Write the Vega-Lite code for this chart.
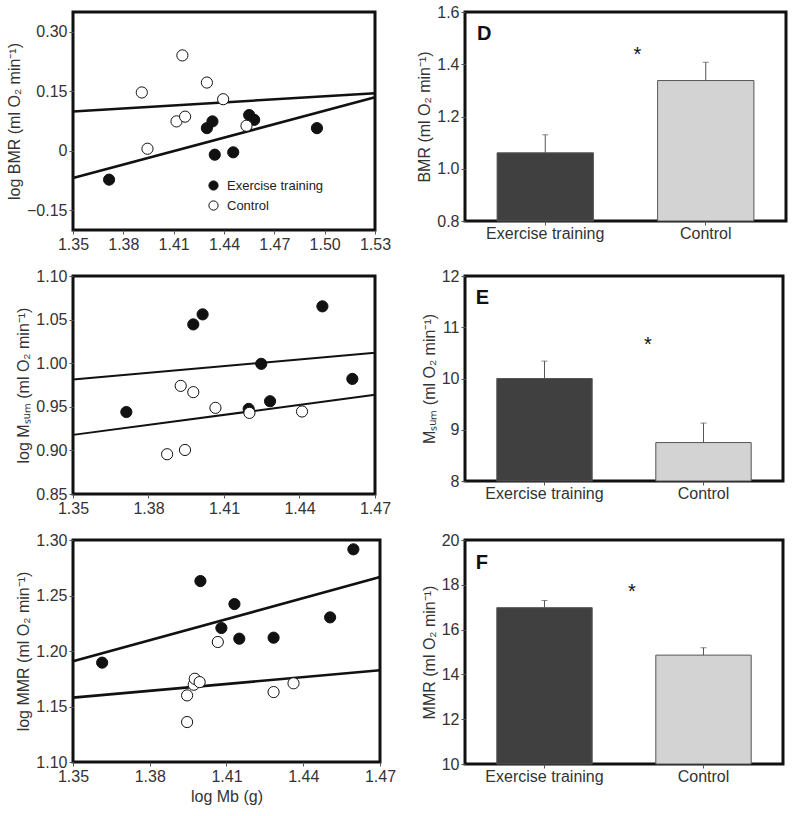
{
  "$schema": "https://vega.github.io/schema/vega-lite/v6.json",
  "padding": {"top": 2, "left": 5, "right": 5, "bottom": 5},
  "background": "white",
  "datasets": {
    "scatter": [
      {"panel": "A", "group": "Exercise training", "x": 1.3715, "y": -0.073},
      {"panel": "A", "group": "Exercise training", "x": 1.4298, "y": 0.057},
      {"panel": "A", "group": "Exercise training", "x": 1.4331, "y": 0.074},
      {"panel": "A", "group": "Exercise training", "x": 1.4345, "y": -0.010},
      {"panel": "A", "group": "Exercise training", "x": 1.4455, "y": -0.004},
      {"panel": "A", "group": "Exercise training", "x": 1.455, "y": 0.090},
      {"panel": "A", "group": "Exercise training", "x": 1.458, "y": 0.078},
      {"panel": "A", "group": "Exercise training", "x": 1.4954, "y": 0.057},
      {"panel": "A", "group": "Control", "x": 1.391, "y": 0.147},
      {"panel": "A", "group": "Control", "x": 1.3944, "y": 0.005},
      {"panel": "A", "group": "Control", "x": 1.4152, "y": 0.2405},
      {"panel": "A", "group": "Control", "x": 1.4117, "y": 0.074},
      {"panel": "A", "group": "Control", "x": 1.4168, "y": 0.086},
      {"panel": "A", "group": "Control", "x": 1.4298, "y": 0.172},
      {"panel": "A", "group": "Control", "x": 1.4395, "y": 0.130},
      {"panel": "A", "group": "Control", "x": 1.4534, "y": 0.063},
      {"panel": "B", "group": "Exercise training", "x": 1.3712, "y": 0.944},
      {"panel": "B", "group": "Exercise training", "x": 1.3978, "y": 1.0445},
      {"panel": "B", "group": "Exercise training", "x": 1.4015, "y": 1.056},
      {"panel": "B", "group": "Exercise training", "x": 1.4198, "y": 0.9476},
      {"panel": "B", "group": "Exercise training", "x": 1.4248, "y": 0.9993},
      {"panel": "B", "group": "Exercise training", "x": 1.4283, "y": 0.9564},
      {"panel": "B", "group": "Exercise training", "x": 1.4491, "y": 1.0652},
      {"panel": "B", "group": "Exercise training", "x": 1.461, "y": 0.982},
      {"panel": "B", "group": "Control", "x": 1.3874, "y": 0.8956},
      {"panel": "B", "group": "Control", "x": 1.3928, "y": 0.974},
      {"panel": "B", "group": "Control", "x": 1.3945, "y": 0.9005},
      {"panel": "B", "group": "Control", "x": 1.3978, "y": 0.9668},
      {"panel": "B", "group": "Control", "x": 1.4066, "y": 0.9488},
      {"panel": "B", "group": "Control", "x": 1.4201, "y": 0.943},
      {"panel": "B", "group": "Control", "x": 1.441, "y": 0.9446},
      {"panel": "C", "group": "Exercise training", "x": 1.3614, "y": 1.1895},
      {"panel": "C", "group": "Exercise training", "x": 1.3998, "y": 1.263},
      {"panel": "C", "group": "Exercise training", "x": 1.408, "y": 1.2207},
      {"panel": "C", "group": "Exercise training", "x": 1.4131, "y": 1.2423},
      {"panel": "C", "group": "Exercise training", "x": 1.415, "y": 1.2111},
      {"panel": "C", "group": "Exercise training", "x": 1.4284, "y": 1.212},
      {"panel": "C", "group": "Exercise training", "x": 1.4505, "y": 1.2303},
      {"panel": "C", "group": "Exercise training", "x": 1.4596, "y": 1.2916},
      {"panel": "C", "group": "Control", "x": 1.3946, "y": 1.136},
      {"panel": "C", "group": "Control", "x": 1.3946, "y": 1.160},
      {"panel": "C", "group": "Control", "x": 1.3972, "y": 1.1696},
      {"panel": "C", "group": "Control", "x": 1.3976, "y": 1.175},
      {"panel": "C", "group": "Control", "x": 1.3995, "y": 1.172},
      {"panel": "C", "group": "Control", "x": 1.4066, "y": 1.2081},
      {"panel": "C", "group": "Control", "x": 1.4284, "y": 1.163},
      {"panel": "C", "group": "Control", "x": 1.4362, "y": 1.1709}
    ],
    "lines": [
      {"panel": "A", "group": "Control", "x": 1.35, "y": 0.099},
      {"panel": "A", "group": "Control", "x": 1.53, "y": 0.145},
      {"panel": "A", "group": "Exercise training", "x": 1.35, "y": -0.069},
      {"panel": "A", "group": "Exercise training", "x": 1.53, "y": 0.135},
      {"panel": "B", "group": "Exercise training", "x": 1.35, "y": 0.9813},
      {"panel": "B", "group": "Exercise training", "x": 1.47, "y": 1.0119},
      {"panel": "B", "group": "Control", "x": 1.35, "y": 0.9178},
      {"panel": "B", "group": "Control", "x": 1.47, "y": 0.9637},
      {"panel": "C", "group": "Exercise training", "x": 1.35, "y": 1.1907},
      {"panel": "C", "group": "Exercise training", "x": 1.47, "y": 1.2667},
      {"panel": "C", "group": "Control", "x": 1.35, "y": 1.158},
      {"panel": "C", "group": "Control", "x": 1.47, "y": 1.1826}
    ],
    "bars": [
      {"panel": "D", "group": "Exercise training", "mean": 1.061, "upper": 1.130},
      {"panel": "D", "group": "Control", "mean": 1.3376, "upper": 1.4076},
      {"panel": "E", "group": "Exercise training", "mean": 10.0, "upper": 10.34},
      {"panel": "E", "group": "Control", "mean": 8.75, "upper": 9.13},
      {"panel": "F", "group": "Exercise training", "mean": 16.98, "upper": 17.30},
      {"panel": "F", "group": "Control", "mean": 14.86, "upper": 15.19}
    ]
  },
  "bounds": "flush",
  "columns": 2,
  "spacing": {"row": 46, "column": 85},
  "concat": [
    {
      "width": 302, "height": 218,
      "layer": [
        {
          "data": {"name": "lines"},
          "transform": [{"filter": "datum.panel == 'A'"}],
          "mark": {"type": "line", "color": "#111", "strokeWidth": 2.6},
          "encoding": {
            "x": {"field": "x", "type": "quantitative", "scale": {"domain": [1.35, 1.53], "nice": false, "zero": false},
                  "axis": {"values": [1.35, 1.38, 1.41, 1.44, 1.47, 1.50, 1.53], "format": ".2f", "title": null}},
            "y": {"field": "y", "type": "quantitative", "scale": {"domain": [-0.2, 0.35], "nice": false, "zero": false},
                  "axis": {"values": [-0.15, 0, 0.15, 0.30], "labelExpr": "datum.value == 0 ? '0' : format(datum.value, '.2f')", "title": "log BMR (ml O₂ min⁻¹)"}},
            "detail": {"field": "group"}
          }
        },
        {
          "data": {"name": "scatter"},
          "transform": [{"filter": "datum.panel == 'A'"}],
          "mark": {"type": "point", "shape": "circle", "filled": true, "size": 125, "stroke": "#111", "strokeWidth": 1, "opacity": 1},
          "encoding": {
            "x": {"field": "x", "type": "quantitative"},
            "y": {"field": "y", "type": "quantitative"},
            "fill": {"field": "group", "type": "nominal",
                     "scale": {"domain": ["Exercise training", "Control"], "range": ["#111111", "#ffffff"]},
                     "legend": {"orient": "none", "legendX": 134, "legendY": 167, "title": null, "symbolType": "circle", "symbolSize": 85, "symbolStrokeColor": "#111", "symbolStrokeWidth": 1, "labelFontSize": 13, "labelOffset": 7, "rowPadding": 5, "labelColor": "#222", "labelFont": "Liberation Sans", "padding": 0}}
          }
        },
        {
          "mark": {"type": "text", "text": "A", "fontSize": 20, "fontWeight": "bold", "font": "Liberation Sans", "align": "left", "baseline": "alphabetic", "color": "#111"},
          "encoding": {"x": {"datum": 1.3566, "type": "quantitative"}, "y": {"datum": 0.278, "type": "quantitative"}}
        }
      ]
    },
    {
      "width": 321, "height": 209,
      "data": {"name": "bars"},
      "transform": [{"filter": "datum.panel == 'D'"}],
      "layer": [
        {
          "mark": {"type": "bar", "stroke": "#555", "strokeWidth": 1},
          "encoding": {
            "x": {"field": "group", "type": "nominal", "sort": ["Exercise training", "Control"],
                  "scale": {"paddingInner": 0.4, "paddingOuter": 0.2},
                  "axis": {"title": null, "labelAngle": 0, "labelPadding": 0}},
            "y": {"field": "mean", "type": "quantitative", "scale": {"domain": [0.8, 1.6], "nice": false, "zero": false},
                  "axis": {"values": [0.8, 1.0, 1.2, 1.4, 1.6], "format": ".1f", "title": "BMR (ml O₂ min⁻¹)"}},
            "y2": {"datum": 0.8},
            "fill": {"condition": {"test": "datum.group == 'Control'", "value": "#d3d3d3"}, "value": "#404040"}
          }
        },
        {
          "mark": {"type": "rule", "color": "#555", "strokeWidth": 1},
          "encoding": {"x": {"field": "group", "type": "nominal", "sort": ["Exercise training", "Control"]}, "y": {"field": "mean", "type": "quantitative"}, "y2": {"field": "upper"}}
        },
        {
          "mark": {"type": "tick", "color": "#555", "size": 6, "thickness": 1, "orient": "horizontal"},
          "encoding": {"x": {"field": "group", "type": "nominal", "sort": ["Exercise training", "Control"]}, "y": {"field": "upper", "type": "quantitative"}}
        },
        {
          "transform": [{"filter": "datum.group == 'Control'"}],
          "mark": {"type": "text", "text": "D", "fontSize": 20, "fontWeight": "bold", "font": "Liberation Sans", "align": "left", "baseline": "alphabetic", "color": "#111", "dx": -20},
          "encoding": {"x": {"datum": "Exercise training", "type": "nominal", "bandPosition": 0}, "y": {"datum": 1.493, "type": "quantitative"}}
        },
        {
          "transform": [{"filter": "datum.group == 'Control'"}],
          "mark": {"type": "text", "text": "*", "fontSize": 20, "font": "Liberation Sans", "align": "center", "baseline": "alphabetic", "color": "#111", "dx": 12},
          "encoding": {"y": {"datum": 1.411, "type": "quantitative"}}
        }
      ]
    },
    {
      "width": 302, "height": 218,
      "layer": [
        {
          "data": {"name": "lines"},
          "transform": [{"filter": "datum.panel == 'B'"}],
          "mark": {"type": "line", "color": "#111", "strokeWidth": 2},
          "encoding": {
            "x": {"field": "x", "type": "quantitative", "scale": {"domain": [1.35, 1.47], "nice": false, "zero": false},
                  "axis": {"values": [1.35, 1.38, 1.41, 1.44, 1.47], "format": ".2f", "title": null}},
            "y": {"field": "y", "type": "quantitative", "scale": {"domain": [0.85, 1.10], "nice": false, "zero": false},
                  "axis": {"values": [0.85, 0.90, 0.95, 1.00, 1.05, 1.10], "format": ".2f", "title": "log Mₛᵤₘ (ml O₂ min⁻¹)"}},
            "detail": {"field": "group"}
          }
        },
        {
          "data": {"name": "scatter"},
          "transform": [{"filter": "datum.panel == 'B'"}],
          "mark": {"type": "point", "shape": "circle", "filled": true, "size": 125, "stroke": "#111", "strokeWidth": 1, "opacity": 1},
          "encoding": {
            "x": {"field": "x", "type": "quantitative"},
            "y": {"field": "y", "type": "quantitative"},
            "fill": {"condition": {"test": "datum.group == 'Control'", "value": "#ffffff"}, "value": "#111111"}
          }
        },
        {
          "mark": {"type": "text", "text": "B", "fontSize": 20, "fontWeight": "bold", "font": "Liberation Sans", "align": "left", "baseline": "alphabetic", "color": "#111"},
          "encoding": {"x": {"datum": 1.3538, "type": "quantitative"}, "y": {"datum": 1.0667, "type": "quantitative"}}
        }
      ]
    },
    {
      "width": 318, "height": 205,
      "data": {"name": "bars"},
      "transform": [{"filter": "datum.panel == 'E'"}],
      "layer": [
        {
          "mark": {"type": "bar", "stroke": "#555", "strokeWidth": 1},
          "encoding": {
            "x": {"field": "group", "type": "nominal", "sort": ["Exercise training", "Control"],
                  "scale": {"paddingInner": 0.4, "paddingOuter": 0.2},
                  "axis": {"title": null, "labelAngle": 0, "labelPadding": 0}},
            "y": {"field": "mean", "type": "quantitative", "scale": {"domain": [8, 12], "nice": false, "zero": false},
                  "axis": {"values": [8, 9, 10, 11, 12], "format": "d", "title": "Mₛᵤₘ (ml O₂ min⁻¹)"}},
            "y2": {"datum": 8},
            "fill": {"condition": {"test": "datum.group == 'Control'", "value": "#d3d3d3"}, "value": "#404040"}
          }
        },
        {
          "mark": {"type": "rule", "color": "#555", "strokeWidth": 1},
          "encoding": {"x": {"field": "group", "type": "nominal", "sort": ["Exercise training", "Control"]}, "y": {"field": "mean", "type": "quantitative"}, "y2": {"field": "upper"}}
        },
        {
          "mark": {"type": "tick", "color": "#555", "size": 6, "thickness": 1, "orient": "horizontal"},
          "encoding": {"x": {"field": "group", "type": "nominal", "sort": ["Exercise training", "Control"]}, "y": {"field": "upper", "type": "quantitative"}}
        },
        {
          "transform": [{"filter": "datum.group == 'Control'"}],
          "mark": {"type": "text", "text": "E", "fontSize": 20, "fontWeight": "bold", "font": "Liberation Sans", "align": "left", "baseline": "alphabetic", "color": "#111", "dx": -21},
          "encoding": {"x": {"datum": "Exercise training", "type": "nominal", "bandPosition": 0}, "y": {"datum": 11.45, "type": "quantitative"}}
        },
        {
          "transform": [{"filter": "datum.group == 'Control'"}],
          "mark": {"type": "text", "text": "*", "fontSize": 20, "font": "Liberation Sans", "align": "center", "baseline": "alphabetic", "color": "#111", "dx": 24},
          "encoding": {"y": {"datum": 10.53, "type": "quantitative"}}
        }
      ]
    },
    {
      "width": 307, "height": 222,
      "layer": [
        {
          "data": {"name": "lines"},
          "transform": [{"filter": "datum.panel == 'C'"}],
          "mark": {"type": "line", "color": "#111", "strokeWidth": 2.6},
          "encoding": {
            "x": {"field": "x", "type": "quantitative", "scale": {"domain": [1.35, 1.47], "nice": false, "zero": false},
                  "axis": {"values": [1.35, 1.38, 1.41, 1.44, 1.47], "format": ".2f", "title": "log Mb (g)", "titlePadding": 4}},
            "y": {"field": "y", "type": "quantitative", "scale": {"domain": [1.10, 1.30], "nice": false, "zero": false},
                  "axis": {"values": [1.10, 1.15, 1.20, 1.25, 1.30], "format": ".2f", "title": "log MMR (ml O₂ min⁻¹)"}},
            "detail": {"field": "group"}
          }
        },
        {
          "data": {"name": "scatter"},
          "transform": [{"filter": "datum.panel == 'C'"}],
          "mark": {"type": "point", "shape": "circle", "filled": true, "size": 125, "stroke": "#111", "strokeWidth": 1, "opacity": 1},
          "encoding": {
            "x": {"field": "x", "type": "quantitative"},
            "y": {"field": "y", "type": "quantitative"},
            "fill": {"condition": {"test": "datum.group == 'Control'", "value": "#ffffff"}, "value": "#111111"}
          }
        },
        {
          "mark": {"type": "text", "text": "C", "fontSize": 20, "fontWeight": "bold", "font": "Liberation Sans", "align": "left", "baseline": "alphabetic", "color": "#111"},
          "encoding": {"x": {"datum": 1.3538, "type": "quantitative"}, "y": {"datum": 1.2748, "type": "quantitative"}}
        }
      ]
    },
    {
      "width": 318, "height": 224,
      "data": {"name": "bars"},
      "transform": [{"filter": "datum.panel == 'F'"}],
      "layer": [
        {
          "mark": {"type": "bar", "stroke": "#555", "strokeWidth": 1},
          "encoding": {
            "x": {"field": "group", "type": "nominal", "sort": ["Exercise training", "Control"],
                  "scale": {"paddingInner": 0.4, "paddingOuter": 0.2},
                  "axis": {"title": null, "labelAngle": 0, "labelPadding": 0}},
            "y": {"field": "mean", "type": "quantitative", "scale": {"domain": [10, 20], "nice": false, "zero": false},
                  "axis": {"values": [10, 12, 14, 16, 18, 20], "format": "d", "title": "MMR (ml O₂ min⁻¹)"}},
            "y2": {"datum": 10},
            "fill": {"condition": {"test": "datum.group == 'Control'", "value": "#d3d3d3"}, "value": "#404040"}
          }
        },
        {
          "mark": {"type": "rule", "color": "#555", "strokeWidth": 1},
          "encoding": {"x": {"field": "group", "type": "nominal", "sort": ["Exercise training", "Control"]}, "y": {"field": "mean", "type": "quantitative"}, "y2": {"field": "upper"}}
        },
        {
          "mark": {"type": "tick", "color": "#555", "size": 6, "thickness": 1, "orient": "horizontal"},
          "encoding": {"x": {"field": "group", "type": "nominal", "sort": ["Exercise training", "Control"]}, "y": {"field": "upper", "type": "quantitative"}}
        },
        {
          "transform": [{"filter": "datum.group == 'Control'"}],
          "mark": {"type": "text", "text": "F", "fontSize": 20, "fontWeight": "bold", "font": "Liberation Sans", "align": "left", "baseline": "alphabetic", "color": "#111", "dx": -21},
          "encoding": {"x": {"datum": "Exercise training", "type": "nominal", "bandPosition": 0}, "y": {"datum": 18.7, "type": "quantitative"}}
        },
        {
          "transform": [{"filter": "datum.group == 'Control'"}],
          "mark": {"type": "text", "text": "*", "fontSize": 20, "font": "Liberation Sans", "align": "center", "baseline": "alphabetic", "color": "#111", "dx": 8},
          "encoding": {"y": {"datum": 17.39, "type": "quantitative"}}
        }
      ]
    }
  ],
  "config": {
    "view": {"stroke": "#111", "strokeWidth": 3},
    "font": "Liberation Sans",
    "axis": {
      "labelFont": "Liberation Sans", "titleFont": "Liberation Sans",
      "labelFontSize": 16, "titleFontSize": 16, "titleFontWeight": "normal",
      "labelColor": "#333", "titleColor": "#333",
      "domain": false, "grid": false,
      "ticks": true, "tickColor": "#555", "tickSize": 4, "tickWidth": 1,
      "labelPadding": 2, "labelFlush": false, "labelOverlap": false
    }
  }
}
